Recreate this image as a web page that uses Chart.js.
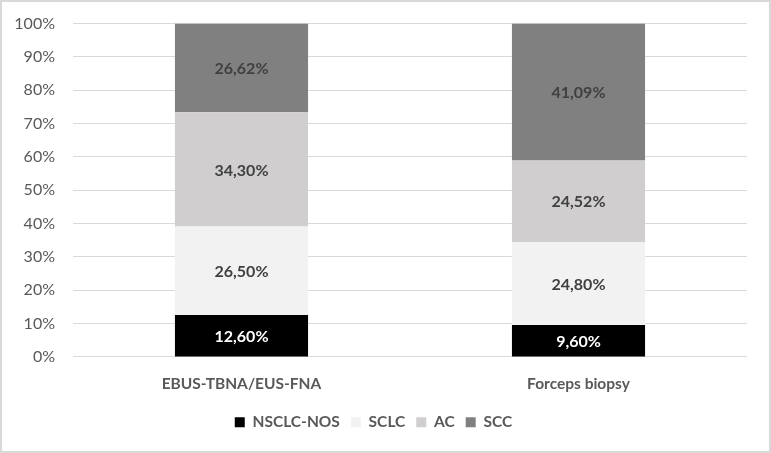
<!DOCTYPE html>
<html>
<head>
<meta charset="utf-8">
<script src="https://cdn.jsdelivr.net/npm/chart.js@4/dist/chart.umd.min.js"></script>
<style>
  body { margin: 0; background: #fff; }
  #wrap { width: 771px; height: 453px; position: relative; }
</style>
</head>
<body>
<div id="wrap"><canvas id="chart"></canvas></div>
<script>
const categories = ["EBUS-TBNA/EUS-FNA", "Forceps biopsy"];
const seriesNames = ["NSCLC-NOS", "SCLC", "AC", "SCC"];
const nsclcNos = [12.60, 9.60];
const sclc = [26.50, 24.80];
const ac = [34.30, 24.52];
const scc = [26.62, 41.09];
const yTicks = [0, 10, 20, 30, 40, 50, 60, 70, 80, 90, 100];

const colors = ["#000000", "#f2f2f2", "#d0cece", "#808080"];
const labelColors = ["#ffffff", "#404040", "#404040", "#404040"];
const FONT = "Lato, 'Open Sans', sans-serif";

// border round the whole picture
const frame = {
    id: "frame",
    beforeDraw(chart) {
        const c = chart.ctx;
        c.save();
        c.fillStyle = "#ffffff";
        c.fillRect(0, 0, chart.width, chart.height);
        c.strokeStyle = "#d9d9d9";
        c.lineWidth = 2;
        c.strokeRect(1, 1, chart.width - 2, chart.height - 2);
        c.restore();
    }
};

// value labels in the middle of each segment
const segLabels = {
    id: "segLabels",
    afterDatasetsDraw(chart) {
        const c = chart.ctx;
        c.save();
        c.font = "bold 16px " + FONT;
        c.textAlign = "center";
        c.textBaseline = "middle";
        chart.data.datasets.forEach((ds, i) => {
            const meta = chart.getDatasetMeta(i);
            meta.data.forEach((bar, j) => {
                const p = bar.getProps(["x", "y", "base"], true);
                c.fillStyle = labelColors[i];
                const txt = ds.data[j].toFixed(2).replace(".", ",") + "%";
                c.fillText(txt, p.x, (p.y + p.base) / 2 + 1);
            });
        });
        c.restore();
    }
};

const values = [nsclcNos, sclc, ac, scc];

new Chart(document.querySelector("#chart"), {
    type: "bar",
    data: {
        labels: categories,
        datasets: seriesNames.map((name, i) => ({
            label: name,
            data: values[i],
            backgroundColor: colors[i],
            borderWidth: 0,
            categoryPercentage: 1,
            barPercentage: 0.395
        }))
    },
    options: {
        responsive: true,
        maintainAspectRatio: false,
        animation: false,
        layout: { padding: { top: 23.5, right: 24, bottom: 13, left: 0 } },
        plugins: {
            legend: {
                position: "bottom",
                labels: {
                    boxWidth: 10,
                    boxHeight: 10,
                    padding: 11,
                    color: "#595959",
                    font: { family: FONT, size: 15.5, weight: "bold" }
                }
            },
            tooltip: { enabled: false }
        },
        scales: {
            x: {
                stacked: true,
                grid: { display: false },
                border: { display: false },
                ticks: {
                    color: "#595959",
                    padding: 10,
                    font: { family: FONT, size: 15.5, weight: "bold" }
                }
            },
            y: {
                stacked: true,
                min: 0,
                max: 100,
                afterBuildTicks(scale) {
                    scale.ticks = yTicks.map(v => ({ value: v }));
                },
                afterFit(scale) {
                    scale.width = 73;
                    scale.paddingTop = 10;
                    scale.paddingBottom = 10;
                },
                grid: { color: "#d9d9d9", lineWidth: 1, drawTicks: false },
                border: { display: false },
                ticks: {
                    color: "#595959",
                    padding: 18,
                    font: { family: FONT, size: 16 },
                    callback: v => v + "%"
                }
            }
        }
    },
    plugins: [frame, segLabels]
});
</script>
</body>
</html>
